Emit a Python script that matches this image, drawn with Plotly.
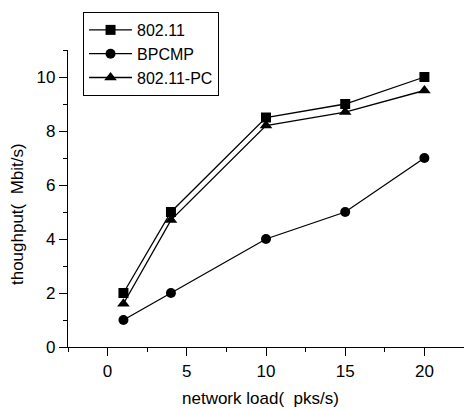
import plotly.graph_objects as go

x_load = [1, 4, 10, 15, 20]
y_80211 = [2, 5, 8.5, 9, 10]
y_bpcmp = [1, 2, 4, 5, 7]
y_80211pc = [1.6, 4.7, 8.2, 8.7, 9.5]
names = ["802.11", "BPCMP", "802.11-PC"]
x_title = "network load(  pks/s)"
y_title = "thoughput(  Mbit/s)"

FONT = "Liberation Sans, Arial, sans-serif"
FS = 17
fig = go.Figure()
for name, ys, sym in zip(names, [y_80211, y_bpcmp, y_80211pc], ["square", "circle", "triangle-up"]):
    fig.add_trace(go.Scatter(
        x=x_load, y=ys, name=name, mode="lines+markers",
        line=dict(color="black", width=1.3),
        marker=dict(symbol=sym, size=10 if sym != "triangle-up" else 11, color="black"),
        cliponaxis=False,
    ))

axis_common = dict(
    showline=True, linecolor="black", linewidth=1.3,
    ticks="outside", ticklen=8, tickwidth=1.3, tickcolor="black",
    showgrid=False, zeroline=False, mirror=False,
    tickfont=dict(family=FONT, size=FS, color="black"),
)
fig.update_xaxes(
    range=[-2.5, 22.5], tickvals=[0, 5, 10, 15, 20],
    minor=dict(dtick=2.5, tick0=0, ticks="outside", ticklen=4, tickwidth=1.3, tickcolor="black", showgrid=False),
    **axis_common,
)
fig.update_yaxes(
    range=[0, 11], tickvals=[0, 2, 4, 6, 8, 10],
    minor=dict(dtick=1, tick0=0, ticks="outside", ticklen=4, tickwidth=1.3, tickcolor="black", showgrid=False),
    **axis_common,
)
fig.add_annotation(
    text=x_title, xref="paper", yref="paper", x=0.485, y=-0.172,
    xanchor="center", yanchor="middle", showarrow=False,
    font=dict(family=FONT, size=FS, color="black"),
)
fig.add_annotation(
    text=y_title, xref="paper", yref="paper", x=-0.126, y=0.448,
    xanchor="center", yanchor="middle", showarrow=False, textangle=-90,
    font=dict(family=FONT, size=FS, color="black"),
)
fig.update_layout(
    width=464, height=409,
    margin=dict(l=68, r=0, t=50, b=62),
    plot_bgcolor="white", paper_bgcolor="white",
    font=dict(family=FONT, size=FS, color="black"),
    legend=dict(
        x=0.038, y=1.128, xanchor="left", yanchor="top",
        bordercolor="black", borderwidth=1, bgcolor="white",
        font=dict(family=FONT, size=16, color="black"),
        tracegroupgap=0, itemwidth=43,
    ),
    showlegend=True,
)
fig.write_html("out.html")
